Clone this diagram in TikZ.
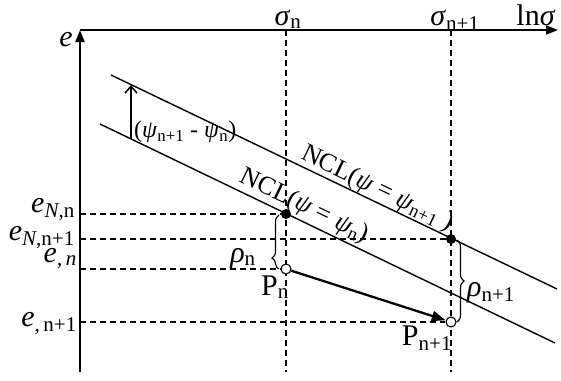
\documentclass[tikz,border=0pt]{standalone}
\usepackage{fontspec}
\setmainfont{Liberation Serif}
\usetikzlibrary{positioning, arrows.meta, decorations.pathreplacing}

\newcommand{\gr}[1]{\textit{#1}}
\newcommand{\sbs}[1]{\textsubscript{#1}}

\begin{document}
\begin{tikzpicture}[
  x=1pt, y=-1pt,
  font=\fontsize{30}{32}\selectfont,
  axis/.style={line width=1.8pt, -{Triangle[length=12pt, width=9pt]}},
  ncl/.style={line width=1.4pt},
  guide/.style={line width=1.1pt, dash pattern=on 6pt off 4pt},
  fulldot/.style={circle, fill=black, inner sep=0pt, minimum size=10pt},
  opendot/.style={circle, draw, fill=white, line width=1.1pt, inner sep=0pt, minimum size=10pt},
  brc/.style={decorate, decoration={brace, amplitude=7pt}, line width=1.1pt},
  small/.style={font=\fontsize{26}{28}\selectfont},
  tiny/.style={font=\fontsize{24}{26}\selectfont}
]
  \useasboundingbox (0,0) rectangle (561,380);

  \coordinate (corner) at (80,30);
  \coordinate (bottom) at (80,372);
  \coordinate (xend) at (558,30);
  \coordinate (snTop) at (286,30);
  \coordinate (snBot) at (286,372);
  \coordinate (sn1Top) at (451,30);
  \coordinate (sn1Bot) at (451,372);

  \draw[axis] (bottom) -- (corner);
  \draw[axis] (corner) -- (xend);
  \draw[guide] (snTop) -- (snBot);
  \draw[guide] (sn1Top) -- (sn1Bot);

  \node[anchor=base, inner sep=0pt] (eAxis) at (66,46) {\gr{e}};
  \node[anchor=base, inner sep=0pt] (snLbl) at (288,25) {\gr{σ}\sbs{n}};
  \node[anchor=base, inner sep=0pt] (sn1Lbl) at (455,25) {\gr{σ}\sbs{n+1}};
  \node[anchor=base, inner sep=0pt] (lnLbl) at (536,25) {ln\gr{σ}};

  \coordinate (hiA) at (111,75);
  \coordinate (hiB) at (557,289);
  \coordinate (loA) at (100,124);
  \coordinate (loB) at (555,343);
  \draw[ncl] (hiA) -- node[sloped, above, pos=0.585, inner sep=0pt, small] (hiLbl) {NCL(\gr{ψ} = \gr{ψ}\sbs{n+1} )} (hiB);
  \draw[ncl] (loA) -- node[sloped, above, pos=0.435, inner sep=2pt, small] (loLbl) {NCL(\gr{ψ} = \gr{ψ}\sbs{n})} (loB);

  \coordinate (psiLo) at (131,139);
  \coordinate (psiHi) at (131,85);
  \draw[line width=1.5pt, -{Straight Barb[length=7pt, width=12pt]}] (psiLo) -- (psiHi);
  \node[anchor=west, tiny, inner sep=1pt] (psiLbl) at (133,132) {(\gr{ψ}\sbs{n+1} - \gr{ψ}\sbs{n})};

  \coordinate (eNn) at (80,214);
  \coordinate (eNn1) at (80,239);
  \coordinate (en) at (80,269);
  \coordinate (en1) at (80,322);
  \node[fulldot] (NA) at (286,214) {};
  \node[fulldot] (NB) at (451,239) {};
  \node[opendot] (Pn) at (286,269) {};
  \node[opendot] (Pn1) at (451,322) {};

  \draw[guide] (eNn) -- (NA);
  \draw[guide] (eNn1) -- (NB);
  \draw[guide] (en) -- (Pn);
  \draw[guide] (en1) -- (Pn1);

  \node[anchor=base east, inner sep=0pt] (eNnLbl) at (75,212) {\gr{e}\sbs{\gr{N},n}};
  \node[anchor=base east, inner sep=0pt] (eNn1Lbl) at (75,240) {\gr{e}\sbs{\gr{N},n+1}};
  \node[anchor=base east, inner sep=0pt] (enLbl) at (77,262) {\gr{e}\sbs{,\,\gr{n}}};
  \node[anchor=base east, inner sep=0pt] (en1Lbl) at (77,326) {\gr{e}\sbs{,\,n+1}};

  \draw[line width=2.3pt, -{Triangle[length=14pt, width=10pt]}] (Pn) -- (Pn1);

  \draw[brc, decoration={aspect=0.2}] (279,269) -- (279,215);
  \draw[brc] (457,240) -- (457,322);
  \node[anchor=base] (rhoN) at (243,262) {\gr{ρ}\sbs{n}};
  \node[anchor=base] (rhoN1) at (491,296) {\gr{ρ}\sbs{n+1}};

  \node[anchor=base, inner sep=0pt] (PnLbl) at (275,295) {P\sbs{n}};
  \node[anchor=base, inner sep=0pt] (Pn1Lbl) at (427,345) {P\sbs{n+1}};
\end{tikzpicture}
\end{document}
